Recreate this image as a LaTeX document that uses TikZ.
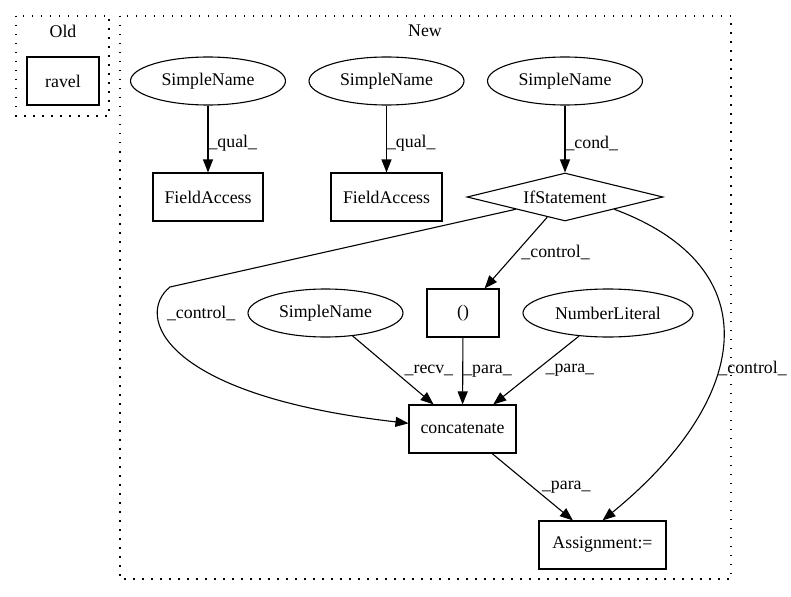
\documentclass[tikz,border=0pt]{standalone}
\usepackage{fontspec}
\setmainfont{Liberation Serif}
\usepackage{tikz}
\usetikzlibrary{shapes,arrows.meta,positioning,calc}

\begin{document}
\begin{tikzpicture}[x=1pt, y=-1pt,
    font=\fontsize{17.8}{20}\selectfont,
    box/.style={draw, line width=1.1pt, rectangle, minimum height=48pt, inner sep=0pt},
    oval/.style={draw, line width=1.1pt, ellipse, minimum width=155pt, minimum height=48pt, inner sep=0pt},
    cond/.style={draw, line width=1.1pt, diamond, aspect=4, minimum width=196pt, minimum height=48pt, inner sep=0pt},
    edge/.style={line width=1.1pt, -{Triangle[length=13pt,width=10pt]}},
    lbl/.style={anchor=west, inner sep=0pt},
    cluster/.style={line width=1.3pt, dash pattern=on 1.5pt off 7.5pt}]
    \useasboundingbox (0,0) rectangle (791,596);

    % Clusters
    \draw[cluster] (16,16) rectangle (109,116);
    \draw[cluster] (120,16) rectangle (731,579);
    \node (oldlbl) at (63,31) {Old};
    \node (newlbl) at (425,31) {New};

    % Old
    \node[box, minimum width=72pt] (ravel) at (63,81) {ravel};

    % New
    \node[oval] (sn1) at (208,81) {SimpleName};
    \node[oval] (sn2) at (386.5,81) {SimpleName};
    \node[oval] (sn3) at (565,81) {SimpleName};
    \node[box, minimum width=110pt] (fa1) at (208,197) {FieldAccess};
    \node[box, minimum width=111pt] (fa2) at (386.5,197) {FieldAccess};
    \node[cond] (ifst) at (565,197) {IfStatement};
    \node[box, minimum width=72pt] (paren) at (463,313) {()};
    \node[oval] (sn4) at (325.5,313) {SimpleName};
    \node[oval, minimum width=170pt] (numlit) at (608,313) {NumberLiteral};
    \node[box, minimum width=107pt] (concat) at (462.5,429) {concatenate};
    \node[box, minimum width=127pt] (assign) at (602.5,545) {Assignment:=};

    % Edges
    \draw[edge] (sn1) -- node[lbl, yshift=-4pt] {\_qual\_} (fa1);
    \draw[edge] (sn2) -- node[lbl, yshift=-4pt] {\_qual\_} (fa2);
    \draw[edge] (sn3) -- node[lbl, yshift=-4pt] {\_cond\_} (ifst);
    \draw[edge] (ifst) -- node[lbl, xshift=5pt] {\_control\_} (paren);
    \draw[edge] (ifst.south west) -- (170,287) .. controls (135,315) and (160,395) .. (concat.174)
        node[pos=0.2, lbl, xshift=9pt, yshift=-4pt] {\_control\_};
    \draw[edge] (ifst.south east) .. controls (772,268) and (750,400) .. (assign.north)
        node[pos=0.58, lbl] {\_control\_};
    \draw[edge] (sn4) -- node[lbl, xshift=11pt] {\_recv\_} (concat);
    \draw[edge] (paren) -- node[lbl] {\_para\_} (concat);
    \draw[edge] (numlit) -- node[lbl, xshift=9pt] {\_para\_} (concat);
    \draw[edge] (concat) -- node[lbl, xshift=9pt] {\_para\_} (assign);
\end{tikzpicture}
\end{document}
